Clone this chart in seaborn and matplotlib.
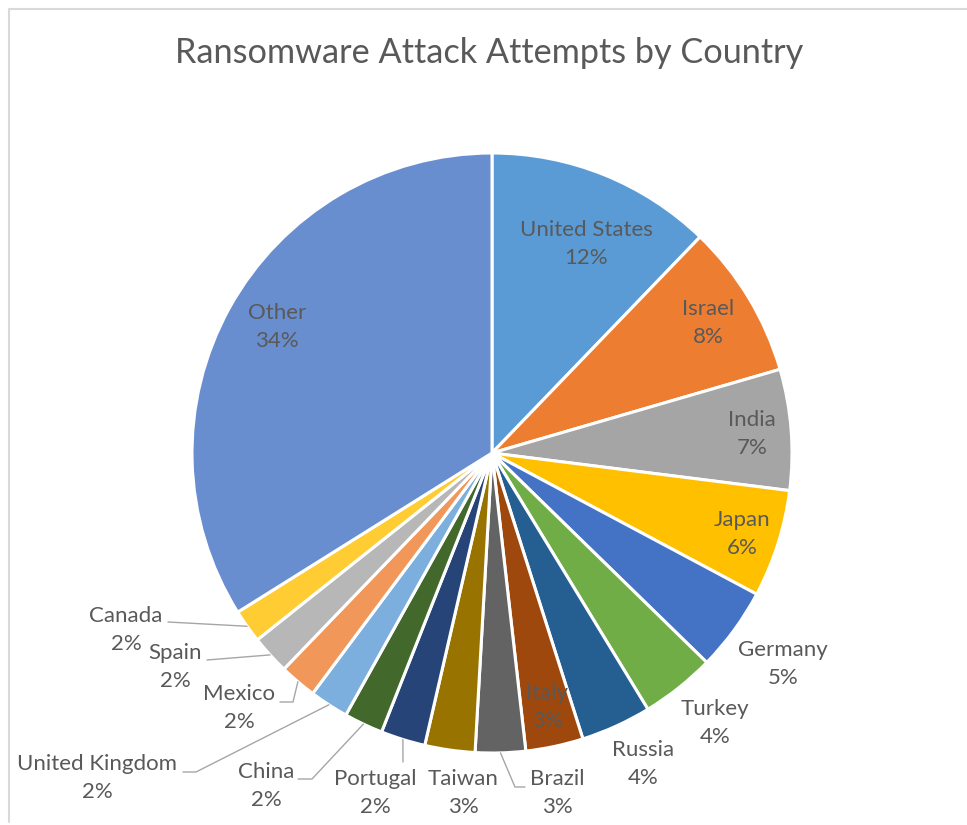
import matplotlib
matplotlib.use("Agg")
import matplotlib.pyplot as plt
import seaborn as sns
import numpy as np

# ---- data ----
countries = ["United States", "Israel", "India", "Japan", "Germany", "Turkey",
             "Russia", "Italy", "Brazil", "Taiwan", "Portugal", "China",
             "United Kingdom", "Mexico", "Spain", "Canada", "Other"]
shares = [12.2, 8.3, 6.5, 5.8, 4.5, 4.0, 3.8, 3.1, 2.7, 2.7, 2.4, 2.1,
          2.1, 2.0, 2.1, 1.8, 33.9]
pct_labels = ["12%", "8%", "7%", "6%", "5%", "4%", "4%", "3%", "3%", "3%",
              "2%", "2%", "2%", "2%", "2%", "2%", "34%"]
colors = ["#5B9BD5", "#ED7D31", "#A5A5A5", "#FFC000", "#4472C4", "#70AD47",
          "#255E91", "#9E480E", "#636363", "#997300", "#264478", "#43682B",
          "#7CAFDD", "#F1975A", "#B7B7B7", "#FFCD33", "#698ED0"]
title = "Ransomware Attack Attempts by Country"

# ---- layout (pixels of the 967x825 canvas) ----
W, H = 967, 825
CX, CY, R = 492, 453, 300
label_pos = {
    "United States": (586, 244), "Israel": (708, 323), "India": (752, 434),
    "Japan": (742, 534), "Germany": (783, 664), "Turkey": (715, 723),
    "Russia": (643, 764), "Italy": (547, 707), "Brazil": (557, 793),
    "Taiwan": (463, 793), "Portugal": (375, 793), "China": (266, 786),
    "United Kingdom": (97, 778), "Mexico": (239, 708), "Spain": (175, 667),
    "Canada": (126, 630), "Other": (277, 327),
}
# leader line anchor points near label (pixels); final point is wedge edge
leaders = {
    "Canada": [(168, 622)],
    "Spain": [(207, 660)],
    "Mexico": [(280, 702), (293, 702)],
    "United Kingdom": [(183, 772), (196, 772)],
    "China": [(298, 779), (312, 779)],
    "Portugal": [(403, 762)],
    "Brazil": [(525, 787), (515, 787)],
}

def px(x, y):
    return ((x - CX) / R, (CY - y) / R)

sns.set_theme(style="white")
plt.rcParams["font.family"] = ["Lato", "DejaVu Sans"]

fig = plt.figure(figsize=(W / 100, H / 100), dpi=100)
ax = fig.add_axes([0, 0, 1, 1])
sns.set_palette(sns.color_palette(colors))

wedges, _ = ax.pie(shares, colors=colors, startangle=90, counterclock=False,
                   radius=1.0, center=(0, 0),
                   wedgeprops=dict(edgecolor="white", linewidth=2.2))

x0, y0 = px(0, 0)
x1, y1 = px(W, H)
ax.set_xlim(x0, x1)
ax.set_ylim(y1, y0)
ax.set_aspect("auto")
ax.axis("off")

txt_color = "#595959"
for i, name in enumerate(countries):
    lx, ly = px(*label_pos[name])
    ax.text(lx, ly, f"{name}\n{pct_labels[i]}", ha="center", va="center",
            fontsize=16, color=txt_color, linespacing=1.45)
    if name in leaders:
        w = wedges[i]
        mid = np.deg2rad((w.theta1 + w.theta2) / 2)
        ex, ey = np.cos(mid), np.sin(mid)
        pts = [px(*p) for p in leaders[name]] + [(ex, ey)]
        xs, ys = zip(*pts)
        ax.plot(xs, ys, color="#A6A6A6", linewidth=1.0)

tx, ty = px(489, 53)
ax.text(tx, ty, title, ha="center", va="center", fontsize=24.7,
        color=txt_color)

# outer frame (top and left visible edges)
fx0, fy0 = px(8.5, 8.5)
fx1, fy1 = px(W + 5, 822)
ax.plot([fx0, fx0, fx1], [fy1, fy0, fy0], color="#D9D9D9", linewidth=1.5,
        clip_on=False)

fig.savefig("out.png", dpi=100, facecolor="white")
